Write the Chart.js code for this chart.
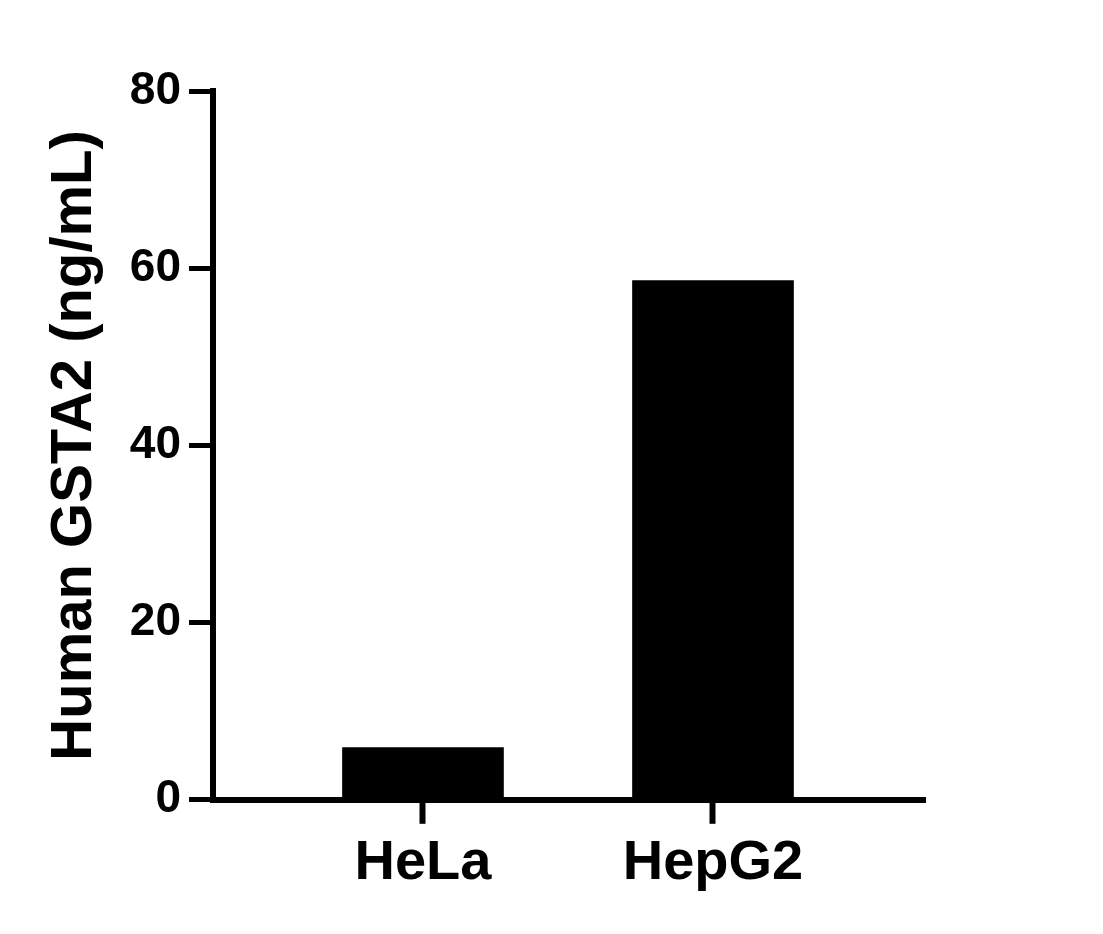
<!DOCTYPE html>
<html>
<head>
<meta charset="utf-8">
<script src="https://cdn.jsdelivr.net/npm/chart.js@4"></script>
<style>
  body { margin: 0; background: #fff; }
  #wrap { width: 1103px; height: 934px; position: relative; }
</style>
</head>
<body>
<div id="wrap"><canvas id="barChart"></canvas></div>
<script>
const categories = ["HeLa", "HepG2"];
const categoryPos = [1, 2];
const values = [5.9, 58.6];
const yTicks = [0, 20, 40, 60, 80];

const FONT = "'Liberation Sans', Arial, sans-serif";

document.addEventListener("DOMContentLoaded", () => {
  const ctx = document.getElementById("barChart").getContext("2d");

  new Chart(ctx, {
    type: "bar",
    data: {
      datasets: [
        {
          data: categories.map((c, i) => ({ x: categoryPos[i], y: values[i] })),
          backgroundColor: "#000",
          borderWidth: 0,
          barThickness: 161,
        },
      ],
    },
    options: {
      responsive: true,
      maintainAspectRatio: false,
      animation: false,
      layout: { padding: { top: 91, right: 178, bottom: 31, left: 0 } },
      plugins: {
        legend: { display: false },
        tooltip: { enabled: false },
      },
      scales: {
        x: {
          type: "linear",
          offset: false,
          min: 0.276,
          max: 2.731,
          grid: {
            display: true,
            offset: false,
            drawOnChartArea: false,
            drawTicks: true,
            tickLength: 24,
            tickWidth: 6,
            tickColor: "#000",
          },
          border: { display: true, color: "#000", width: 6 },
          afterBuildTicks: (scale) => {
            scale.ticks = categoryPos.map((v) => ({ value: v }));
          },
          ticks: {
            color: "#000",
            padding: 6,
            maxRotation: 0,
            font: { family: FONT, size: 56, weight: "bold" },
            callback: (v) => categories[categoryPos.indexOf(v)] || "",
          },
        },
        y: {
          min: 0,
          max: 80,
          afterFit: (scale) => {
            scale.width = 213;
          },
          afterBuildTicks: (scale) => {
            scale.ticks = yTicks.map((v) => ({ value: v }));
          },
          grid: {
            display: true,
            drawOnChartArea: false,
            drawTicks: true,
            tickLength: 24,
            tickWidth: 5,
            tickColor: "#000",
          },
          border: { display: true, color: "#000", width: 6 },
          ticks: {
            color: "#000",
            padding: 8,
            font: { family: FONT, size: 46, weight: "bold" },
          },
          title: {
            display: true,
            text: "Human GSTA2 (ng/mL)",
            color: "#000",
            padding: { top: 40, bottom: 0 },
            font: { family: FONT, size: 58, weight: "bold" },
          },
        },
      },
    },
  });
});
</script>
</body>
</html>
